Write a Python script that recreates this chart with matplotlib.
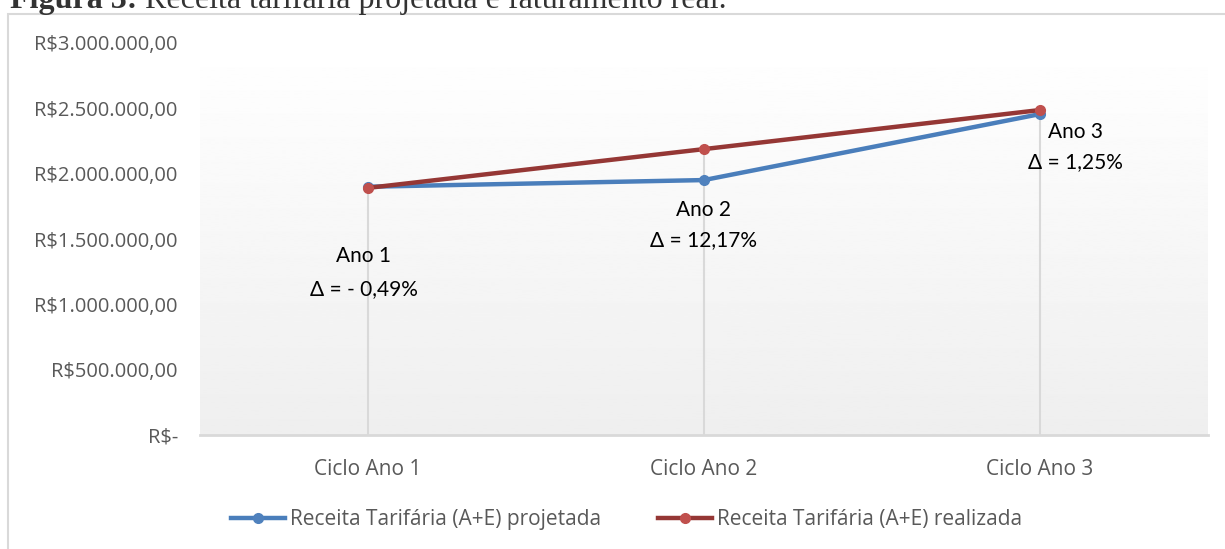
import numpy as np
import matplotlib.pyplot as plt
from matplotlib.patches import Rectangle
from matplotlib.ticker import FixedLocator

# Dados
categorias = ["Ciclo Ano 1", "Ciclo Ano 2", "Ciclo Ano 3"]
projetada = [1900000, 1951000, 2456000]
realizada = [1891000, 2188000, 2487000]
rotulos = ["Ano 1\nΔ = - 0,49%", "Ano 2\nΔ = 12,17%", "Ano 3\nΔ = 1,25%"]
yticks = [0, 500000, 1000000, 1500000, 2000000, 2500000, 3000000]
ytick_labels = ["R$-", "R$500.000,00", "R$1.000.000,00", "R$1.500.000,00",
                "R$2.000.000,00", "R$2.500.000,00", "R$3.000.000,00"]

cor_azul = "#4a7ebb"
cor_azul_m = "#4f81bd"
cor_verm = "#953735"
cor_verm_m = "#c0504d"
cinza_txt = "#595959"

W, H = 1225, 549
fig = plt.figure(figsize=(W / 100, H / 100), dpi=100)
ax = fig.add_axes([200 / W, 1 - 435 / H, 1008 / W, 392 / H])

# Moldura do gráfico
fig.patches.append(Rectangle((8 / W, -0.1), 1.2, 1 - 14 / H + 0.1,
                             transform=fig.transFigure, fill=False,
                             edgecolor="#d9d9d9", linewidth=1.5))

# Legenda da figura (cortada no topo, como no original)
y_leg = 1 - 8 / H
t1 = fig.text(10 / W, y_leg, "Figura 3:", family="Liberation Serif",
              fontweight="bold", fontsize=23, color="#333333", va="baseline")
fig.canvas.draw()
bb = t1.get_window_extent()
fig.text((bb.x1 + 8) / W, y_leg, "Receita tarifária projetada e faturamento real.",
         family="Liberation Serif", fontsize=23, color="#333333", va="baseline")

x = np.arange(len(categorias))

# Fundo em degradê
grad = np.linspace(1.0, 0.935, 256).reshape(-1, 1)
ax.imshow(grad, extent=(-0.5, 2.5, 0, 3000000), aspect="auto", cmap="gray",
          vmin=0, vmax=1, zorder=0, origin="upper")

# Linhas de queda
topo = np.maximum(projetada, realizada)
ax.vlines(x, 0, topo, color="#d9d9d9", linewidth=1.5, zorder=1)

ax.plot(x, projetada, color=cor_azul, linewidth=3.2, marker="o", markersize=7,
        markerfacecolor=cor_azul_m, markeredgecolor=cor_azul_m,
        label="Receita Tarifária (A+E) projetada", zorder=3)
ax.plot(x, realizada, color=cor_verm, linewidth=3.2, marker="o", markersize=7,
        markerfacecolor=cor_verm_m, markeredgecolor=cor_verm_m,
        label="Receita Tarifária (A+E) realizada", zorder=4)

# Rótulos de variação
pos_rot = [(-0.012, 1243000, 1.85), (1.0, 1607000, 1.68), (2.105, 2204000, 1.68)]
for txt, (px, py, ls) in zip(rotulos, pos_rot):
    ax.text(px, py, txt, ha="center", va="center", fontsize=15,
            family="Lato", color="black", linespacing=ls, zorder=5)

ax.set_xlim(-0.5, 2.5)
ax.set_ylim(0, 3000000)
ax.set_xticks(x)
ax.set_xticklabels(categorias, family="Open Sans", fontsize=15, color=cinza_txt)
ax.yaxis.set_major_locator(FixedLocator(yticks))
ax.set_yticklabels(ytick_labels, family="Open Sans", fontsize=14.5, color=cinza_txt)
ax.tick_params(axis="both", length=0)
ax.tick_params(axis="x", pad=17)
ax.tick_params(axis="y", pad=16)

for s in ["top", "right", "left"]:
    ax.spines[s].set_visible(False)
ax.spines["bottom"].set_color("#d9d9d9")
ax.spines["bottom"].set_linewidth(2)

leg = fig.legend(loc="center left", bbox_to_anchor=(212 / W, 1 - 520 / H),
                 ncol=2, frameon=False, numpoints=1, handlelength=2.6,
                 handletextpad=0.25, columnspacing=2.7,
                 prop={"family": "Open Sans", "size": 15})
for t in leg.get_texts():
    t.set_color(cinza_txt)

fig.savefig("out.png", dpi=100)
